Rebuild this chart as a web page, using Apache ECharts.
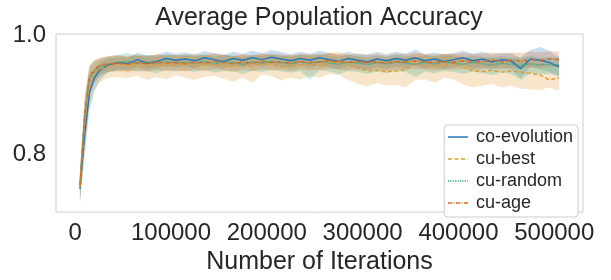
<!DOCTYPE html>
<html>
<head>
<meta charset="utf-8">
<script src="https://cdn.jsdelivr.net/npm/echarts@6/dist/echarts.min.js"></script>
<style>
  html, body { margin: 0; padding: 0; background: #fff; }
  #main { width: 611px; height: 280px; }
</style>
</head>
<body>
<div id="main"></div>
<script>
// iterations (x)
var iters = [5000, 10000, 15000, 20000, 25000, 30000, 35000,
  45000, 55000, 65000, 75000, 85000, 95000, 105000, 115000, 125000, 135000,
  145000, 155000, 165000, 175000, 185000, 195000, 205000, 215000, 225000, 235000,
  245000, 255000, 265000, 275000, 285000, 295000, 305000, 315000, 325000, 335000,
  345000, 355000, 365000, 375000, 385000, 395000, 405000, 415000, 425000, 435000,
  445000, 455000, 465000, 475000, 485000, 495000, 505000];

// co-evolution
var coEvo = [.742, .832, .904, .928, .940, .946, .950,
  .954, .952, .959, .953, .956, .961, .958, .960, .957, .962,
  .959, .956, .961, .958, .962, .959, .963, .960, .957, .961,
  .958, .962, .959, .956, .961, .958, .955, .960, .957, .961,
  .958, .962, .957, .960, .956, .959, .962, .957, .960, .955,
  .959, .957, .944, .960, .958, .954, .947];
var coEvoLo = [.718, .800, .875, .905, .922, .932, .938,
  .943, .940, .946, .942, .945, .948, .946, .948, .944, .950,
  .947, .944, .949, .946, .950, .947, .951, .947, .944, .949,
  .945, .950, .946, .943, .948, .945, .942, .947, .944, .948,
  .945, .949, .944, .947, .943, .946, .949, .944, .947, .942,
  .946, .943, .928, .946, .943, .938, .930];
var coEvoHi = [.762, .860, .925, .945, .952, .957, .961,
  .963, .962, .971, .966, .967, .972, .969, .971, .968, .973,
  .970, .967, .972, .969, .974, .970, .975, .972, .968, .972,
  .969, .974, .970, .967, .972, .969, .967, .972, .968, .972,
  .969, .976, .968, .971, .968, .970, .974, .969, .972, .967,
  .971, .969, .962, .975, .980, .974, .963];

// cu-best
var cuBest = [.745, .858, .924, .937, .943, .946, .948,
  .951, .949, .950, .948, .951, .949, .950, .951, .948, .950,
  .951, .949, .947, .950, .948, .952, .951, .947, .950, .949,
  .951, .948, .953, .956, .951, .944, .940, .941, .939, .940,
  .942, .953, .950, .948, .951, .952, .946, .940, .939, .941,
  .938, .940, .938, .936, .933, .925, .928];
var bestLo = [.720, .820, .885, .910, .920, .925, .928,
  .930, .928, .932, .925, .930, .926, .933, .928, .925, .930,
  .932, .927, .922, .929, .920, .934, .931, .924, .929, .925,
  .932, .928, .935, .933, .925, .918, .914, .920, .915, .917,
  .912, .925, .925, .920, .928, .926, .917, .912, .915, .918,
  .912, .915, .910, .909, .908, .912, .907];
var bestHi = [.765, .885, .945, .955, .959, .962, .963,
  .966, .965, .966, .964, .967, .966, .965, .968, .965, .966,
  .969, .966, .964, .967, .965, .969, .968, .964, .967, .966,
  .968, .965, .970, .972, .968, .963, .960, .962, .960, .961,
  .963, .970, .967, .965, .968, .969, .964, .960, .960, .962,
  .958, .960, .958, .956, .955, .948, .952];

// cu-random
var cuRandom = [.750, .865, .928, .940, .946, .949, .951,
  .954, .956, .953, .955, .952, .956, .954, .955, .953, .956,
  .952, .955, .954, .951, .955, .953, .956, .954, .952, .955,
  .953, .956, .954, .951, .955, .953, .951, .954, .952, .955,
  .953, .951, .954, .952, .955, .953, .951, .954, .952, .950,
  .953, .951, .949, .952, .950, .951, .950];
var randLo = [.722, .830, .900, .920, .930, .935, .938,
  .940, .942, .939, .940, .936, .942, .939, .941, .938, .942,
  .937, .940, .939, .935, .940, .938, .942, .939, .937, .940,
  .925, .941, .939, .935, .940, .938, .935, .939, .936, .940,
  .938, .930, .939, .936, .940, .938, .935, .939, .936, .933,
  .938, .935, .925, .936, .934, .935, .933];
var randHi = [.770, .895, .948, .957, .960, .962, .965,
  .967, .970, .965, .967, .964, .968, .966, .967, .965, .968,
  .964, .967, .966, .963, .967, .965, .969, .966, .964, .967,
  .965, .968, .966, .963, .967, .965, .963, .966, .964, .967,
  .965, .963, .966, .964, .967, .965, .963, .966, .964, .962,
  .965, .963, .962, .965, .962, .963, .962];

// cu-age
var cuAge = [.748, .869, .932, .941, .949, .951, .952,
  .953, .951, .954, .952, .955, .953, .954, .952, .955, .953,
  .956, .954, .952, .955, .953, .956, .954, .955, .953, .956,
  .954, .955, .957, .955, .954, .956, .954, .955, .953, .956,
  .955, .957, .955, .954, .956, .955, .957, .955, .956, .958,
  .956, .958, .957, .959, .958, .960, .959];
var ageLo = [.724, .835, .905, .922, .933, .937, .939,
  .940, .938, .941, .939, .942, .940, .941, .939, .942, .940,
  .943, .941, .939, .942, .940, .943, .941, .942, .940, .943,
  .941, .942, .944, .942, .941, .943, .941, .942, .940, .943,
  .942, .944, .942, .941, .943, .942, .944, .942, .943, .945,
  .943, .945, .944, .946, .945, .947, .946];
var ageHi = [.772, .900, .950, .958, .962, .964, .965,
  .966, .964, .967, .965, .968, .966, .967, .965, .968, .966,
  .969, .967, .965, .968, .966, .969, .967, .968, .966, .969,
  .967, .968, .970, .968, .967, .969, .967, .968, .966, .969,
  .968, .970, .968, .967, .969, .968, .970, .968, .969, .971,
  .969, .971, .970, .972, .971, .973, .972];

var xTicks = [0, 100000, 200000, 300000, 400000, 500000];
var yTicks = [0.8, 1.0];

var FONT = 'Liberation Sans';
var TXT = '#262626';

var groups = [
  { name: 'co-evolution', mean: coEvo, lo: coEvoLo, hi: coEvoHi, color: '#2a77b6', dash: 'solid' },
  { name: 'cu-best', mean: cuBest, lo: bestLo, hi: bestHi, color: '#e39b34', dash: [4, 2.5] },
  { name: 'cu-random', mean: cuRandom, lo: randLo, hi: randHi, color: '#2fa783', dash: [1.2, 1.2] },
  { name: 'cu-age', mean: cuAge, lo: ageLo, hi: ageHi, color: '#d9691f', dash: [4, 1.5, 1, 1.5] }
];

var myChart = echarts.init(document.getElementById('main'));

var series = [];
// 置信区间（阴影带）
groups.forEach(function (g) {
  series.push({
    type: 'custom',
    name: g.name + '-band',
    silent: true,
    z: 1,
    data: [0],
    renderItem: function (params, api) {
      var top = iters.map(function (x, i) { return api.coord([x, g.hi[i]]); });
      var bot = iters.map(function (x, i) { return api.coord([x, g.lo[i]]); }).reverse();
      return {
        type: 'polygon',
        shape: { points: top.concat(bot) },
        style: { fill: g.color, opacity: 0.25 }
      };
    }
  });
});
// 均值曲线
groups.forEach(function (g) {
  series.push({
    type: 'line',
    name: g.name,
    z: 3,
    symbol: 'none',
    showSymbol: false,
    animation: false,
    data: iters.map(function (x, i) { return [x, g.mean[i]]; }),
    itemStyle: { color: g.color },
    lineStyle: { color: g.color, width: 1.5, type: g.dash }
  });
});

var option = {
  backgroundColor: '#fff',
  animation: false,
  title: {
    text: 'Average Population Accuracy',
    left: 319,
    top: 6,
    padding: 0,
    textAlign: 'center',
    textStyle: { fontFamily: FONT, fontSize: 25, fontWeight: 'normal', color: TXT }
  },
  legend: {
    orient: 'vertical',
    right: 33,
    top: 125,
    padding: [3, 5, 5, 3],
    itemGap: 4,
    itemWidth: 20,
    itemHeight: 14,
    backgroundColor: '#fff',
    borderColor: '#cccccc',
    borderWidth: 1,
    borderRadius: 3,
    textStyle: { fontFamily: FONT, fontSize: 18, color: TXT, padding: [0, 0, 0, 3] },
    data: groups.map(function (g) {
      return {
        name: g.name,
        itemStyle: { opacity: 0 },
        lineStyle: { color: g.color, width: 1.5, type: g.dash }
      };
    })
  },
  grid: {
    left: 56,
    right: 28,
    top: 34,
    bottom: 59,
    show: true,
    borderColor: '#cccccc',
    borderWidth: 1,
    backgroundColor: '#fff'
  },
  xAxis: {
    type: 'value',
    min: -20000,
    max: 530000,
    name: 'Number of Iterations',
    nameLocation: 'middle',
    nameGap: 34,
    nameTextStyle: { fontFamily: FONT, fontSize: 25, color: TXT },
    axisLine: { show: false },
    axisTick: { show: false },
    splitLine: { show: false },
    axisLabel: {
      customValues: xTicks,
      margin: 9,
      fontFamily: FONT,
      fontSize: 24,
      color: TXT,
      formatter: function (v) { return String(v); }
    }
  },
  yAxis: {
    type: 'value',
    min: 0.703,
    max: 1.002,
    axisLine: { show: false },
    axisTick: { show: false },
    splitLine: { show: false },
    axisLabel: {
      customValues: yTicks,
      margin: 10,
      fontFamily: FONT,
      fontSize: 24,
      color: TXT,
      formatter: function (v) { return v.toFixed(1); }
    }
  },
  series: series
};

myChart.setOption(option);
</script>
</body>
</html>
